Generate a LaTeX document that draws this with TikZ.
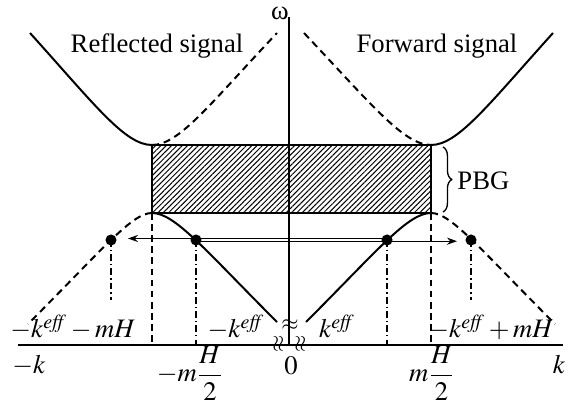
\documentclass[tikz,border=0pt]{standalone}
\usepackage{mathptmx}
\usepackage{fontspec}
\setmainfont{Liberation Serif}
\usetikzlibrary{positioning, arrows.meta, decorations.pathreplacing, patterns.meta}

\begin{document}
\begin{tikzpicture}[
  x=0.45pt, y=-0.45pt,
  line join=round,
  >={Stealth[length=4.5pt, width=3.2pt]},
  every node/.style = {font=\fontsize{12}{14}\selectfont, inner sep=0pt},
  curve/.style  = {line width=0.9pt},
  dcurve/.style = {line width=0.9pt, dash pattern=on 3.2pt off 2.2pt},
  axis/.style   = {line width=0.6pt},
  bandedge/.style = {line width=0.6pt, dash pattern=on 3pt off 2pt},
  drop/.style   = {line width=0.5pt, dash pattern=on 3pt off 1.4pt on 0.6pt off 1.4pt},
  dot/.style    = {circle, fill=black, minimum size=5pt, inner sep=0pt},
  lbl/.style    = {anchor=base},
  brk/.style    = {font=\fontsize{10}{11}\selectfont}
]
\useasboundingbox (0,0) rectangle (570,408);

% band edges: gap from y=145 to y=213
\coordinate (tl) at (152,145);
\coordinate (tr) at (431,145);
\coordinate (bl) at (152,213);
\coordinate (br) at (431,213);
\coordinate (o)  at (289,345);

% axes
\coordinate (kmin) at (18,345);
\coordinate (kmax) at (563,345);
\coordinate (wtop) at (289,17);
\draw[axis] (kmin) -- (kmax);
\draw[axis] (o) -- (wtop);
\node[lbl] (w) at (280,20) {ω};

% photonic band gap
\draw[axis, pattern={Lines[angle=45, distance=1.7pt, line width=0.45pt]}] (tl) rectangle (br);
\draw[axis, decorate, decoration={brace, amplitude=4pt}]
  (443,147) -- (443,212) coordinate[midway] (bmid);
\node[anchor=west] (pbg) at (457,181) {PBG};

% upper branch
\draw[curve]  (30,33) .. controls (95,105) and (125,145) .. (tl);
\draw[dcurve] (tl) .. controls (179,145) and (209,105) .. (277,33);
\draw[dcurve] (304,33) .. controls (372,105) and (404,145) .. (tr);
\draw[curve]  (tr) .. controls (458,145) and (488,105) .. (553,33);

% lower branch
\draw[dcurve] (bl) .. controls (132,213) and (104,248) .. (28,324);
\draw[curve]  (bl) .. controls (175,213) and (205,250) .. (277,322);
\draw[curve]  (br) .. controls (408,213) and (378,250) .. (306,322);
\draw[dcurve] (br) .. controls (451,213) and (479,248) .. (555,324);

% band edge lines
\draw[bandedge] (bl) -- (bl |- o);
\draw[bandedge] (br) -- (br |- o);

% states
\node[dot] (rl) at (111,240) {};
\node[dot] (fl) at (196,240) {};
\node[dot] (fr) at (387,240) {};
\node[dot] (rr) at (471,240) {};
\draw[drop] (rl.center) -- ++(0,60);
\draw[drop] (rr.center) -- ++(0,60);
\draw[drop] (fl.center) -- (fl |- o);
\draw[drop] (fr.center) -- (fr |- o);

% conversions
\coordinate (tipl) at (128,238.5);
\coordinate (tipr) at (457,241.2);
\draw[->, axis] (fr.center |- tipl) -- (tipl);
\draw[->, axis] (fl.center |- tipr) -- (tipr);

% axis breaks
\node[brk] (bw) at (290,325) {$\approx$};
\node[brk, rotate=90] (bkl) at (279,344) {$\approx$};
\node[brk, rotate=90] (bkr) at (301,344) {$\approx$};

% texts
\node[lbl] (refl) at (157,53) {Reflected signal};
\node[lbl] (forw) at (437,53) {Forward signal};
\node[lbl] (k1) at (73,338)  {$-k^{\mathit{eff}} - mH$};
\node[lbl] (k2) at (236,338) {$-k^{\mathit{eff}}$};
\node[lbl] (k3) at (337,338) {$k^{\mathit{eff}}$};
\node[lbl] (k4) at (491,338) {$-k^{\mathit{eff}} + mH$};
\node[lbl] (mk) at (29,374)  {$-k$};
\node[lbl] (pk) at (559,374) {$k$};
\node[lbl] (zero) at (291,375) {$0$};
\node[lbl] (mh1) at (190,382) {$-m\displaystyle\frac{H}{2}$};
\node[lbl] (mh2) at (432,382) {$m\displaystyle\frac{H}{2}$};
\end{tikzpicture}
\end{document}
